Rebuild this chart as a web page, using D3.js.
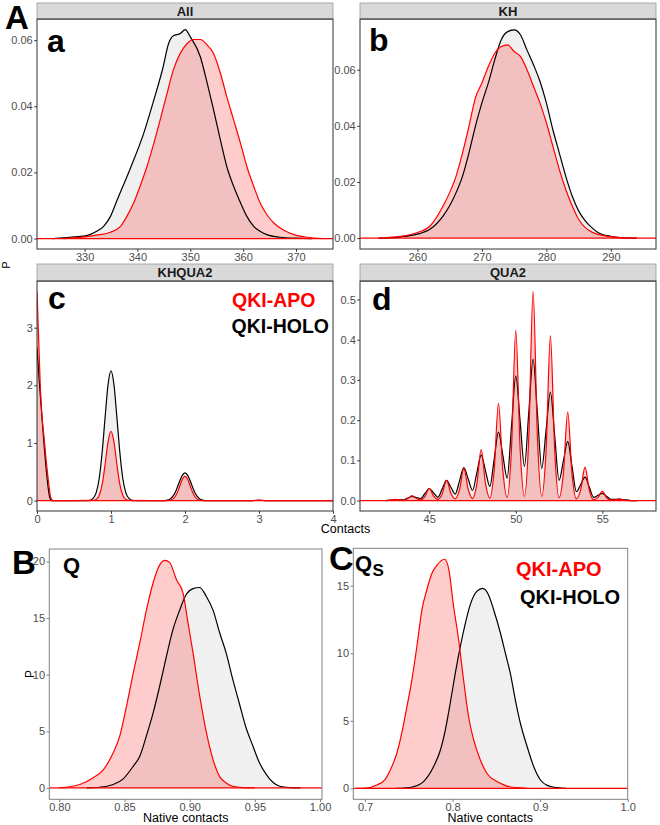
<!DOCTYPE html>
<html><head><meta charset="utf-8">
<script src="https://cdn.jsdelivr.net/npm/d3@7"></script>
<style>
body{margin:0;background:#fff}
svg{display:block}
text{font-family:"Liberation Sans",Arial,sans-serif}
</style>
</head><body>
<svg id="chart" width="660" height="825"></svg>
<script>
// ---------- DATA ----------
// Panel a (All)
const aHoloX = [324,326,328,330.4,332.3,333.6,334.9,336.2,338.8,341.2,343.1,344.8,345.9,346.8,348.1,349.05,350,351.9,353.2,354.4,355.7,356.9,358.2,359.5,360.7,362,363.2,364.5,367,370,373];
const aHoloY = [0,0.0002,0.0005,0.0009,0.0022,0.0037,0.0067,0.0118,0.0218,0.0319,0.0419,0.0515,0.0590,0.0613,0.0620,0.0632,0.061,0.055,0.047,0.039,0.0298,0.0218,0.0158,0.0108,0.0067,0.0037,0.0022,0.0012,0.0004,0.0001,0];
const aApoX = [326,328,330,331.7,334.9,336.8,338,339.3,340.5,341.8,343.1,344.3,345.6,346.8,348.1,349.4,350.6,351.9,353.2,354.4,355.7,356.9,358.2,359.5,360.7,362,363.2,364.5,365.8,367.7,369.6,372.1,375];
const aApoY = [0,0.0002,0.0005,0.0009,0.0019,0.0037,0.0067,0.0108,0.0158,0.0218,0.0288,0.0359,0.0439,0.051,0.056,0.059,0.0602,0.0602,0.0585,0.056,0.050,0.0429,0.0359,0.0288,0.0218,0.0158,0.0108,0.0072,0.0047,0.0025,0.0012,0.0004,0];
// Panel b (KH)
const bX = [254,256,258,260,262,264,265,266,267,268,269,270,271,272,273,274,275,276,277,278,279,280,281,282,283,284,285,286,287,288,290,292,294];
const bHoloY = [0,0.0001,0.0006,0.0014,0.0032,0.0079,0.0115,0.0162,0.0221,0.0304,0.0399,0.0482,0.0553,0.0636,0.0707,0.0736,0.0742,0.0724,0.067,0.0618,0.0559,0.0482,0.0387,0.0304,0.0221,0.015,0.0097,0.0062,0.0038,0.002,0.0006,0.0001,0];
const bApoY = [0,0.0003,0.0008,0.002,0.0044,0.0115,0.0162,0.0221,0.0304,0.0399,0.050,0.0553,0.0612,0.0659,0.0683,0.0689,0.0665,0.0647,0.060,0.0541,0.0482,0.0411,0.0328,0.0245,0.0174,0.0115,0.0067,0.0038,0.0022,0.0013,0.0005,0.0001,0];
// Panel c (KHQUA2)
const cHoloX = [0,0.036,0.095,0.135,0.171,0.2,0.3,0.7,0.76,0.8,0.84,0.88,0.92,0.96,1,1.04,1.08,1.12,1.16,1.2,1.24,1.3,1.7,1.76,1.8,1.84,1.88,1.92,1.96,2,2.04,2.08,2.12,2.16,2.2,2.24,2.3,2.9,3,3.1,4];
const cHoloY = [2.66,1.97,0.98,0.4,0.06,0,0,0,0.043,0.14,0.38,0.83,1.44,2.01,2.25,2.01,1.44,0.83,0.38,0.14,0.043,0,0,0.009,0.03,0.082,0.177,0.31,0.43,0.48,0.43,0.31,0.177,0.082,0.03,0.009,0,0,0.005,0,0];
const cApoX = [0,0.02,0.045,0.104,0.149,0.185,0.216,0.3,0.76,0.8,0.84,0.88,0.92,0.96,1,1.04,1.08,1.12,1.16,1.2,1.24,1.76,1.8,1.84,1.88,1.92,1.96,2,2.04,2.08,2.12,2.16,2.2,2.24,2.9,3,3.1,4];
const cApoY = [3.63,2.9,1.97,0.98,0.4,0.06,0,0,0.004,0.02,0.088,0.276,0.624,1.02,1.2,1.02,0.624,0.276,0.088,0.02,0.004,0.001,0.007,0.031,0.097,0.218,0.357,0.42,0.357,0.218,0.097,0.031,0.007,0.001,0,0.01,0,0];
// Panel d (QUA2)
const dX = [42.5,42.75,43,43.25,43.5,43.75,44,44.25,44.5,44.75,45,45.25,45.5,45.75,46,46.25,46.5,46.75,47,47.25,47.5,47.75,48,48.25,48.5,48.75,49,49.25,49.5,49.75,50,50.25,50.5,50.75,51,51.25,51.5,51.75,52,52.25,52.5,52.75,53,53.25,53.5,53.75,54,54.25,54.5,54.75,55,55.25,55.5,55.75,56,56.25,56.5,56.75,57];
const dHoloY = [0,0.001,0.002,0.002,0.002,0.006,0.010,0.0075,0.005,0.0175,0.030,0.019,0.008,0.029,0.050,0.033,0.016,0.049,0.082,0.0535,0.025,0.069,0.113,0.074,0.035,0.1025,0.170,0.113,0.056,0.183,0.310,0.1975,0.085,0.2185,0.352,0.216,0.080,0.175,0.270,0.160,0.050,0.0985,0.147,0.0845,0.022,0.040,0.058,0.033,0.008,0.013,0.018,0.0105,0.003,0.003,0.003,0.002,0.001,0,0];
const dApoY = [0,0.001,0.003,0.0015,0.001,0.0044,0.012,0.0054,0.002,0.010,0.030,0.011,0.003,0.017,0.050,0.018,0.004,0.027,0.080,0.028,0.005,0.041,0.127,0.042,0.006,0.074,0.242,0.076,0.008,0.127,0.423,0.129,0.010,0.156,0.520,0.156,0.010,0.125,0.410,0.122,0.007,0.068,0.220,0.065,0.004,0.027,0.083,0.025,0.002,0.008,0.023,0.007,0.001,0.002,0.004,0.0015,0,0,0];
// Panel B (Q)
const qApoX = [0.800,0.8158,0.826,0.8337,0.8413,0.8464,0.8515,0.8566,0.8617,0.8668,0.8719,0.877,0.8809,0.8847,0.8898,0.8949,0.8987,0.9026,0.9077,0.9128,0.9179,0.923,0.928,0.933,0.941,0.950];
const qApoY = [0,0.3,0.9,1.6,3.1,4.6,7.2,10.1,12.8,15.7,18.1,19.7,20.1,19.9,18.4,17.2,14.6,11.9,8.1,4.9,2.5,1.0,0.44,0.15,0.03,0];
const qHoloX = [0.821,0.831,0.8413,0.849,0.8566,0.8617,0.8668,0.8719,0.877,0.8821,0.8872,0.8923,0.8974,0.9026,0.9077,0.9128,0.9179,0.923,0.928,0.933,0.938,0.943,0.9485,0.9536,0.9587,0.9638,0.969,0.9765,0.985];
const qHoloY = [0,0.06,0.3,0.8,1.9,2.8,4.6,6.6,9.0,11.6,14.0,15.7,17.1,17.6,17.7,16.9,15.7,13.7,11.9,9.6,7.5,5.4,3.7,2.2,1.2,0.5,0.15,0.03,0];
// Panel C (Qs)
const qsApoX = [0.690,0.700,0.7134,0.723,0.7305,0.7363,0.742,0.7477,0.7534,0.7592,0.7649,0.7706,0.7763,0.782,0.7908,0.7954,0.8011,0.8069,0.8126,0.8183,0.824,0.8317,0.8393,0.8508,0.8622,0.8737,0.885];
const qsApoY = [0,0.02,0.25,0.67,1.6,2.6,4.1,6.0,8.0,10.5,13.2,14.7,15.9,16.5,16.96,16.3,13.5,11.0,8.0,5.3,3.6,2.1,1.1,0.5,0.17,0.05,0];
const qsHoloX = [0.735,0.7439,0.7553,0.7668,0.7782,0.7859,0.7916,0.7973,0.803,0.8088,0.8145,0.8202,0.8279,0.8344,0.8412,0.847,0.8546,0.8603,0.866,0.8718,0.8775,0.8851,0.8927,0.9004,0.908,0.9195,0.930];
const qsHoloY = [0,0.02,0.12,0.5,1.6,2.8,4.3,6.3,8.5,10.5,12.2,13.6,14.6,14.8,14.3,13.2,11.5,10.0,8.5,6.5,4.8,3.1,1.6,0.62,0.22,0.05,0];

// tick values
const aXTicks = [330,340,350,360,370], aYTicks = [0,0.02,0.04,0.06];
const bXTicks = [260,270,280,290],     bYTicks = [0,0.02,0.04,0.06];
const cXTicks = [0,1,2,3,4],           cYTicks = [0,1,2,3];
const dXTicks = [45,50,55],            dYTicks = [0,0.1,0.2,0.3,0.4,0.5];
const qXTicks = [0.80,0.85,0.90,0.95,1.00], qYTicks = [0,5,10,15,20];
const qsXTicks = [0.7,0.8,0.9,1.0],    qsYTicks = [0,5,10,15];
const seriesNames = ["QKI-APO","QKI-HOLO"];

// ---------- DRAW ----------
const svg = d3.select("#chart");
const RED = "#ff0000";
let clipId = 0;

function drawPanel(p){
  const g = svg.append("g");
  const x = d3.scaleLinear().domain(p.xDom).range([p.x0, p.x1]);
  const y = d3.scaleLinear().domain(p.yDom).range([p.y1, p.y0]);
  const id = "clip" + (clipId++);
  g.append("clipPath").attr("id", id).append("rect")
    .attr("x", p.x0).attr("y", p.y0).attr("width", p.x1 - p.x0).attr("height", p.y1 - p.y0);
  const body = g.append("g").attr("clip-path", `url(#${id})`);
  body.append("rect").attr("x", p.x0).attr("y", p.y0).attr("width", p.x1 - p.x0).attr("height", p.y1 - p.y0).attr("fill", "#fff");

  const mk = (xs, ys) => xs.map((v, i) => [v, ys[i]]);
  const holo = mk(p.holoX, p.holoY), apo = mk(p.apoX, p.apoY);
  const area = d3.area().x(d => x(d[0])).y0(y(0)).y1(d => y(d[1])).curve(d3.curveMonotoneX);
  const line = d3.line().x(d => x(d[0])).y(d => y(d[1])).curve(d3.curveMonotoneX);

  body.append("path").attr("d", area(holo)).attr("fill", "#000").attr("fill-opacity", 0.06);
  body.append("path").attr("d", area(apo)).attr("fill", RED).attr("fill-opacity", 0.2);
  body.append("path").attr("d", line(holo)).attr("fill", "none").attr("stroke", "#000").attr("stroke-width", 1.2);
  body.append("path").attr("d", line(apo)).attr("fill", "none").attr("stroke", RED).attr("stroke-width", 1.2);
  body.append("line").attr("x1", p.x0).attr("x2", p.x1).attr("y1", y(0)).attr("y2", y(0))
    .attr("stroke", RED).attr("stroke-width", 1.2);

  g.append("rect").attr("x", p.x0).attr("y", p.y0).attr("width", p.x1 - p.x0).attr("height", p.y1 - p.y0)
    .attr("fill", "none").attr("stroke", p.border).attr("stroke-width", 1);

  const ya = g.append("g").attr("transform", `translate(${p.x0},0)`)
    .call(d3.axisLeft(y).tickValues(p.yTicks).tickFormat(p.yFmt).tickSize(2.75).tickPadding(1.5));
  const xa = g.append("g").attr("transform", `translate(0,${p.y1})`)
    .call(d3.axisBottom(x).tickValues(p.xTicks).tickFormat(p.xFmt).tickSize(2.75).tickPadding(1.5));
  [ya, xa].forEach(a => {
    a.attr("font-size", 11);
    a.select(".domain").remove();
    a.selectAll(".tick line").attr("stroke", p.border);
    a.selectAll(".tick text").attr("fill", "#4d4d4d").style("font-size", "11px")
      .style("font-family", '"Liberation Sans",Arial,sans-serif');
  });

  if (p.strip) {
    g.append("rect").attr("x", p.x0).attr("y", p.sy0).attr("width", p.x1 - p.x0).attr("height", p.y0 - p.sy0)
      .attr("fill", "#d9d9d9").attr("stroke", "#9a9a9a").attr("stroke-width", 0.8);
    g.append("line").attr("x1", p.x0).attr("x2", p.x1).attr("y1", p.y0).attr("y2", p.y0)
      .attr("stroke", p.border).attr("stroke-width", 1);
    g.append("text").attr("x", (p.x0 + p.x1) / 2).attr("y", (p.sy0 + p.y0) / 2 + 4.6)
      .attr("text-anchor", "middle").attr("font-weight", "bold").attr("font-size", 13)
      .attr("fill", "#1a1a1a").text(p.strip);
  }
  return g;
}

const f2 = d3.format(".2f"), f1 = d3.format(".1f"), f0 = d3.format("d");
const TOP = "#333333", BOT = "#808080";

drawPanel({x0:37, x1:333, y0:19, y1:249, sy0:3, strip:"All", border:TOP,
  xDom:[321.0, 377.0], yDom:[-0.00316, 0.0664], xTicks:aXTicks, yTicks:aYTicks, xFmt:f0, yFmt:f2,
  holoX:aHoloX, holoY:aHoloY, apoX:aApoX, apoY:aApoY});
drawPanel({x0:360, x1:656, y0:19, y1:249, sy0:3, strip:"KH", border:TOP,
  xDom:[251.1, 297.0], yDom:[-0.0039, 0.0781], xTicks:bXTicks, yTicks:bYTicks, xFmt:f0, yFmt:f2,
  holoX:bX, holoY:bHoloY, apoX:bX, apoY:bApoY});
drawPanel({x0:37, x1:333, y0:281, y1:511, sy0:264, strip:"KHQUA2", border:TOP,
  xDom:[0, 4], yDom:[-0.18, 3.81], xTicks:cXTicks, yTicks:cYTicks, xFmt:f0, yFmt:f0,
  holoX:cHoloX, holoY:cHoloY, apoX:cApoX, apoY:cApoY});
drawPanel({x0:360, x1:656, y0:281, y1:511, sy0:264, strip:"QUA2", border:TOP,
  xDom:[41.0, 58.1], yDom:[-0.026, 0.546], xTicks:dXTicks, yTicks:dYTicks, xFmt:f0, yFmt:f1,
  holoX:dX, holoY:dHoloY, apoX:dX, apoY:dApoY});
drawPanel({x0:49.3, x1:322, y0:549, y1:799.3, border:BOT,
  xDom:[0.7923, 1.0015], yDom:[-1.005, 21.1], xTicks:qXTicks, yTicks:qYTicks, xFmt:f2, yFmt:f0,
  holoX:qHoloX, holoY:qHoloY, apoX:qApoX, apoY:qApoY});
drawPanel({x0:353.3, x1:627.7, y0:548.3, y1:799.3, border:BOT,
  xDom:[0.6866, 1.0], yDom:[-0.81, 17.77], xTicks:qsXTicks, yTicks:qsYTicks, xFmt:f1, yFmt:f0,
  holoX:qsHoloX, holoY:qsHoloY, apoX:qsApoX, apoY:qsApoY});

// axis titles
function txt(x, y, s, opts = {}) {
  const t = svg.append("text").attr("x", x).attr("y", y).text(s)
    .attr("font-size", opts.size || 12.5).attr("fill", opts.fill || "#000")
    .attr("text-anchor", opts.anchor || "start");
  if (opts.bold) t.attr("font-weight", "bold");
  if (opts.rotate) t.attr("transform", `rotate(-90,${x},${y})`);
  return t;
}
txt(10, 265, "P", {anchor:"middle", rotate:true, size:11});
txt(34, 674, "P", {anchor:"middle", rotate:true, size:12});
txt(345.5, 533, "Contacts", {anchor:"middle"});
txt(185.8, 822, "Native contacts", {anchor:"middle"});
txt(490.3, 822, "Native contacts", {anchor:"middle"});

// panel letters
txt(5, 29, "A", {size:33, bold:true});
txt(47, 52, "a", {size:32, bold:true});
txt(369, 51, "b", {size:32, bold:true});
txt(48, 309, "c", {size:32, bold:true});
txt(372, 310, "d", {size:32, bold:true});
txt(12, 574, "B", {size:33, bold:true});
txt(63, 573, "Q", {size:22, bold:true});
txt(329, 570, "C", {size:34, bold:true});
txt(355, 571, "Q", {size:22, bold:true});
txt(372.5, 575.5, "S", {size:17, bold:true});

// legends
txt(232, 307, seriesNames[0], {size:19.5, bold:true, fill:RED});
txt(231.5, 333, seriesNames[1], {size:19.5, bold:true});
txt(516, 576, seriesNames[0], {size:20, bold:true, fill:RED});
txt(520, 604, seriesNames[1], {size:20, bold:true});
</script>
</body></html>
